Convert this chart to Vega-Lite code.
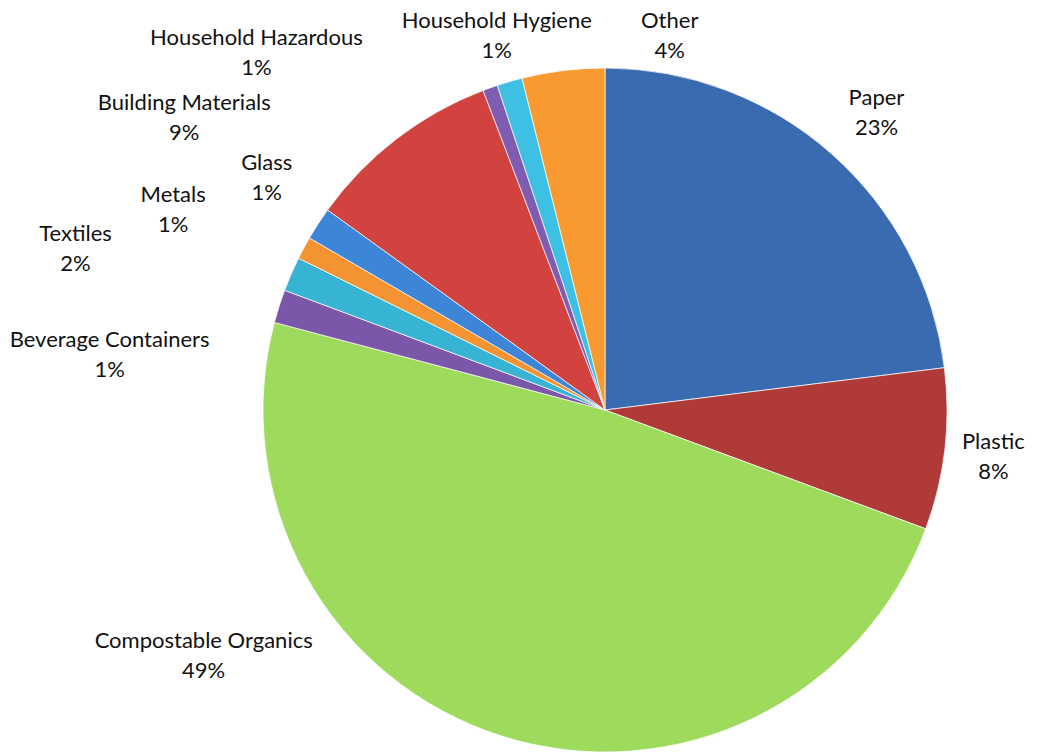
{
  "$schema": "https://vega.github.io/schema/vega-lite/v6.json",
  "width": 864,
  "height": 686,
  "autosize": "none",
  "padding": {"left": 173, "top": 67, "right": 0, "bottom": 0},
  "background": "white",
  "view": {"stroke": null},
  "data": {"values": [
    {"idx": 1, "category": "Paper", "value": 23.03, "label": "Paper\n23%"},
    {"idx": 2, "category": "Plastic", "value": 7.62, "label": "Plastic\n8%"},
    {"idx": 3, "category": "Compostable Organics", "value": 48.48, "label": "Compostable Organics\n49%"},
    {"idx": 4, "category": "Beverage Containers", "value": 1.57, "label": "Beverage Containers\n1%"},
    {"idx": 5, "category": "Textiles", "value": 1.63, "label": "Textiles\n2%"},
    {"idx": 6, "category": "Metals", "value": 1.07, "label": "Metals\n1%"},
    {"idx": 7, "category": "Glass", "value": 1.55, "label": "Glass\n1%"},
    {"idx": 8, "category": "Building Materials", "value": 9.26, "label": "Building Materials\n9%"},
    {"idx": 9, "category": "Household Hazardous", "value": 0.70, "label": "Household Hazardous\n1%"},
    {"idx": 10, "category": "Household Hygiene", "value": 1.20, "label": "Household Hygiene\n1%"},
    {"idx": 11, "category": "Other", "value": 3.90, "label": "Other\n4%"}
  ]},
  "encoding": {
    "theta": {"field": "value", "type": "quantitative", "stack": true},
    "order": {"field": "idx", "type": "quantitative"}
  },
  "layer": [
    {
      "mark": {"type": "arc", "outerRadius": 342, "stroke": "#ffffff", "strokeWidth": 1, "strokeOpacity": 0.7},
      "encoding": {
        "color": {
          "field": "category", "type": "nominal", "legend": null,
          "scale": {
            "domain": ["Paper", "Plastic", "Compostable Organics", "Beverage Containers", "Textiles", "Metals", "Glass", "Building Materials", "Household Hazardous", "Household Hygiene", "Other"],
            "range": ["#3A6BB0", "#B03A37", "#9EDB5C", "#7B57A9", "#37B4D4", "#F39331", "#3D85D6", "#D2433F", "#7E5CB2", "#3DC0E3", "#F89A30"]
          }
        }
      }
    },
    {"mark": {"type": "text", "radius": 395, "dx": 10, "dy": -16, "font": "Lato", "fontSize": 22, "lineHeight": 30, "lineBreak": "\n", "align": "center", "baseline": "middle", "color": "#111111"},
     "encoding": {"text": {"condition": {"test": "datum.category === 'Paper'", "field": "label"}, "value": ""}}},
    {"mark": {"type": "text", "radius": 395, "dx": -4, "dy": -13, "font": "Lato", "fontSize": 22, "lineHeight": 30, "lineBreak": "\n", "align": "center", "baseline": "middle", "color": "#111111"},
     "encoding": {"text": {"condition": {"test": "datum.category === 'Plastic'", "field": "label"}, "value": ""}}},
    {"mark": {"type": "text", "radius": 395, "dx": -282, "dy": -146, "font": "Lato", "fontSize": 22, "lineHeight": 30, "lineBreak": "\n", "align": "center", "baseline": "middle", "color": "#111111"},
     "encoding": {"text": {"condition": {"test": "datum.category === 'Compostable Organics'", "field": "label"}, "value": ""}}},
    {"mark": {"type": "text", "radius": 395, "dx": -119, "dy": 50, "font": "Lato", "fontSize": 22, "lineHeight": 30, "lineBreak": "\n", "align": "center", "baseline": "middle", "color": "#111111"},
     "encoding": {"text": {"condition": {"test": "datum.category === 'Beverage Containers'", "field": "label"}, "value": ""}}},
    {"mark": {"type": "text", "radius": 395, "dx": -167, "dy": -19, "font": "Lato", "fontSize": 22, "lineHeight": 30, "lineBreak": "\n", "align": "center", "baseline": "middle", "color": "#111111"},
     "encoding": {"text": {"condition": {"test": "datum.category === 'Textiles'", "field": "label"}, "value": ""}}},
    {"mark": {"type": "text", "radius": 395, "dx": -84, "dy": -28, "font": "Lato", "fontSize": 22, "lineHeight": 30, "lineBreak": "\n", "align": "center", "baseline": "middle", "color": "#111111"},
     "encoding": {"text": {"condition": {"test": "datum.category === 'Metals'", "field": "label"}, "value": ""}}},
    {"mark": {"type": "text", "radius": 395, "dx": -7, "dy": -32, "font": "Lato", "fontSize": 22, "lineHeight": 30, "lineBreak": "\n", "align": "center", "baseline": "middle", "color": "#111111"},
     "encoding": {"text": {"condition": {"test": "datum.category === 'Glass'", "field": "label"}, "value": ""}}},
    {"mark": {"type": "text", "radius": 395, "dx": -180, "dy": 6, "font": "Lato", "fontSize": 22, "lineHeight": 30, "lineBreak": "\n", "align": "center", "baseline": "middle", "color": "#111111"},
     "encoding": {"text": {"condition": {"test": "datum.category === 'Building Materials'", "field": "label"}, "value": ""}}},
    {"mark": {"type": "text", "radius": 395, "dx": -216, "dy": 0, "font": "Lato", "fontSize": 22, "lineHeight": 30, "lineBreak": "\n", "align": "center", "baseline": "middle", "color": "#111111"},
     "encoding": {"text": {"condition": {"test": "datum.category === 'Household Hazardous'", "field": "label"}, "value": ""}}},
    {"mark": {"type": "text", "radius": 395, "dx": 2, "dy": -10, "font": "Lato", "fontSize": 22, "lineHeight": 30, "lineBreak": "\n", "align": "center", "baseline": "middle", "color": "#111111"},
     "encoding": {"text": {"condition": {"test": "datum.category === 'Household Hygiene'", "field": "label"}, "value": ""}}},
    {"mark": {"type": "text", "radius": 395, "dx": 113, "dy": 3, "font": "Lato", "fontSize": 22, "lineHeight": 30, "lineBreak": "\n", "align": "center", "baseline": "middle", "color": "#111111"},
     "encoding": {"text": {"condition": {"test": "datum.category === 'Other'", "field": "label"}, "value": ""}}}
  ]
}
